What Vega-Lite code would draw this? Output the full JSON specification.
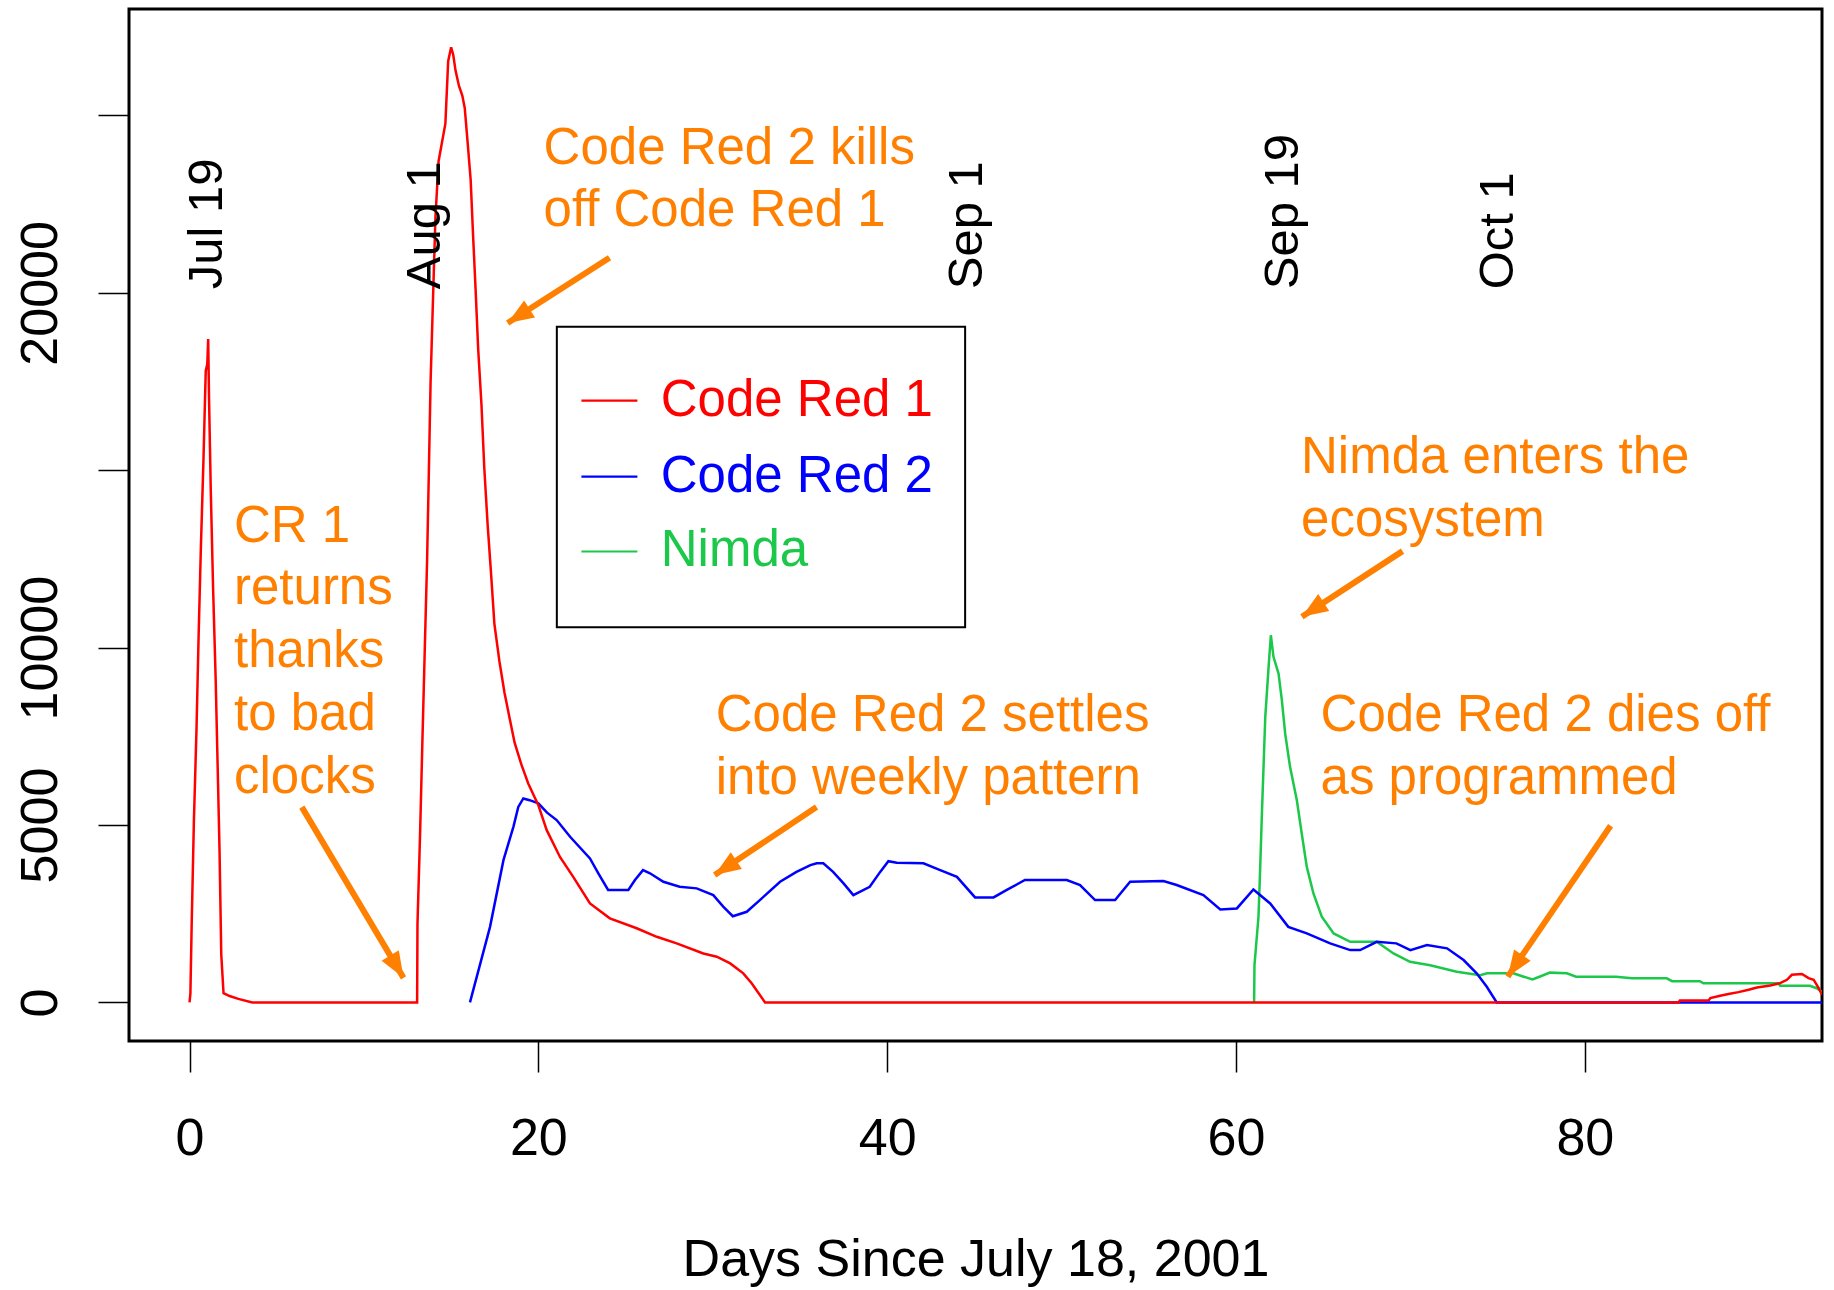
{
  "$schema": "https://vega.github.io/schema/vega-lite/v6.json",
  "width": 1693,
  "height": 1032,
  "autosize": {"type": "none"},
  "padding": {"left": 129, "top": 9, "right": 12, "bottom": 249},
  "background": "white",
  "config": {
    "view": {"stroke": "black", "strokeWidth": 3},
    "font": "Liberation Sans",
    "axis": {
      "labelFont": "Liberation Sans", "titleFont": "Liberation Sans",
      "labelColor": "black", "titleColor": "black", "tickColor": "black",
      "domain": false, "grid": false, "labelFontSize": 52, "titleFontSize": 52,
      "titleFontWeight": "normal", "tickSize": 31, "tickWidth": 1.5
    }
  },
  "datasets": {
    "cr1": [
      {"day":0,"count":0},{"day":0.05,"count":250},{"day":0.12,"count":2100},{"day":0.25,"count":5100},{"day":0.4,"count":7700},{"day":0.52,"count":10300},{"day":0.65,"count":12800},{"day":0.8,"count":15300},{"day":0.93,"count":17800},{"day":1.02,"count":18000},{"day":1.07,"count":18700},{"day":1.12,"count":17000},{"day":1.22,"count":14400},{"day":1.35,"count":11700},{"day":1.5,"count":9100},{"day":1.62,"count":6500},{"day":1.72,"count":4300},{"day":1.82,"count":1350},{"day":1.95,"count":260},{"day":2.3,"count":180},{"day":2.8,"count":100},{"day":3.6,"count":0},
      {"day":13.05,"count":0},{"day":13.07,"count":2200},{"day":13.22,"count":4760},{"day":13.35,"count":7320},{"day":13.48,"count":9785},{"day":13.62,"count":12430},{"day":13.72,"count":14900},{"day":13.82,"count":17450},{"day":13.96,"count":19830},{"day":14.1,"count":22125},{"day":14.28,"count":23710},{"day":14.67,"count":24770},{"day":14.83,"count":26530},{"day":15.0,"count":26920},
      {"day":15.12,"count":26710},{"day":15.25,"count":26270},{"day":15.45,"count":25830},{"day":15.64,"count":25560},{"day":15.78,"count":25210},{"day":15.93,"count":24330},{"day":16.12,"count":23180},{"day":16.26,"count":21600},{"day":16.41,"count":20010},{"day":16.55,"count":18420},{"day":16.74,"count":16840},{"day":16.9,"count":15070},{"day":17.09,"count":13490},{"day":17.29,"count":12080},{"day":17.48,"count":10670},{"day":17.77,"count":9610},{"day":18.06,"count":8730},{"day":18.35,"count":8020},{"day":18.64,"count":7320},{"day":19.03,"count":6700},{"day":19.42,"count":6170},{"day":20.0,"count":5560},{"day":20.48,"count":4855},{"day":21.24,"count":4100},{"day":22.0,"count":3540},{"day":22.96,"count":2790},{"day":24.1,"count":2370},{"day":25.64,"count":2090},{"day":26.79,"count":1850},{"day":27.93,"count":1665},{"day":29.46,"count":1380},{"day":30.23,"count":1290},{"day":31.0,"count":1100},{"day":31.75,"count":820},{"day":32.23,"count":540},{"day":32.5,"count":350},{"day":33.0,"count":0},
      {"day":85.37,"count":0},{"day":85.45,"count":56},{"day":87.1,"count":56},{"day":87.2,"count":122},{"day":87.76,"count":188},{"day":88.24,"count":235},{"day":88.81,"count":291},{"day":89.39,"count":357},{"day":89.87,"count":423},{"day":90.63,"count":479},{"day":91.2,"count":545},{"day":91.59,"count":638},{"day":91.87,"count":780},{"day":92.45,"count":800},{"day":92.83,"count":685},{"day":93.12,"count":640},{"day":93.41,"count":404},{"day":93.6,"count":216}
    ],
    "cr2": [
      {"day":16.08,"count":0},{"day":17.23,"count":2130},{"day":18.0,"count":4010},{"day":18.57,"count":4950},{"day":18.85,"count":5510},{"day":19.14,"count":5750},{"day":19.5,"count":5700},{"day":20.0,"count":5610},{"day":20.5,"count":5350},{"day":21.05,"count":5140},{"day":21.82,"count":4670},{"day":22.96,"count":4060},{"day":23.44,"count":3640},{"day":24.0,"count":3170},{"day":25.16,"count":3170},{"day":25.54,"count":3450},{"day":26.0,"count":3730},{"day":26.4,"count":3640},{"day":27.17,"count":3400},{"day":28.1,"count":3260},{"day":29.08,"count":3215},{"day":30.03,"count":3025},{"day":30.6,"count":2700},{"day":31.15,"count":2430},{"day":31.95,"count":2555},{"day":32.7,"count":2885},{"day":33.86,"count":3400},{"day":34.8,"count":3680},{"day":35.6,"count":3870},{"day":35.96,"count":3920},{"day":36.34,"count":3920},{"day":36.9,"count":3680},{"day":37.5,"count":3355},{"day":38.06,"count":3025},{"day":39.0,"count":3260},{"day":39.6,"count":3680},{"day":40.07,"count":3980},{"day":40.55,"count":3935},{"day":42.08,"count":3920},{"day":43.04,"count":3730},{"day":44.0,"count":3540},{"day":45.04,"count":2960},{"day":46.1,"count":2960},{"day":46.86,"count":3170},{"day":47.9,"count":3450},{"day":50.3,"count":3450},{"day":51.06,"count":3310},{"day":51.92,"count":2885},{"day":53.07,"count":2885},{"day":53.93,"count":3400},{"day":55.84,"count":3420},{"day":56.6,"count":3310},{"day":58.13,"count":3025},{"day":59.1,"count":2620},{"day":60.05,"count":2650},{"day":61.0,"count":3185},{"day":61.96,"count":2790},{"day":63.0,"count":2130},{"day":64.06,"count":1945},{"day":65.4,"count":1665},{"day":66.55,"count":1475},{"day":67.12,"count":1475},{"day":68.07,"count":1710},{"day":69.2,"count":1665},{"day":70.0,"count":1475},{"day":70.95,"count":1615},{"day":72.1,"count":1525},{"day":73.05,"count":1195},{"day":73.8,"count":820},{"day":74.38,"count":440},{"day":74.95,"count":0},{"day":93.6,"count":0}
    ],
    "nimda": [
      {"day":61.04,"count":0},{"day":61.06,"count":1050},{"day":61.29,"count":2415},{"day":61.39,"count":3820},{"day":61.48,"count":5230},{"day":61.58,"count":6640},{"day":61.68,"count":8050},{"day":61.87,"count":9460},{"day":62.0,"count":10350},{"day":62.15,"count":9740},{"day":62.44,"count":9270},{"day":62.63,"count":8520},{"day":62.82,"count":7580},{"day":63.1,"count":6640},{"day":63.49,"count":5700},{"day":63.77,"count":4760},{"day":64.06,"count":3820},{"day":64.44,"count":3070},{"day":64.92,"count":2415},{"day":65.6,"count":1945},{"day":66.55,"count":1710},{"day":68.07,"count":1710},{"day":69.03,"count":1380},{"day":69.98,"count":1145},{"day":71.13,"count":1050},{"day":72.66,"count":865},{"day":74.0,"count":770},{"day":74.4,"count":820},{"day":75.9,"count":820},{"day":76.5,"count":725},{"day":77.0,"count":650},{"day":77.4,"count":725},{"day":78.0,"count":840},{"day":78.97,"count":820},{"day":79.5,"count":725},{"day":81.8,"count":725},{"day":82.7,"count":680},{"day":84.7,"count":680},{"day":85.0,"count":600},{"day":86.6,"count":600},{"day":86.8,"count":540},{"day":91.1,"count":540},{"day":91.2,"count":470},{"day":92.9,"count":470},{"day":93.3,"count":400},{"day":93.6,"count":300}
    ],
    "legendBox": [{"day": 21.06, "day2": 44.47, "count": 10577, "count2": 19045}],
    "legendKeys": [
      {"series": "Code Red 1", "day": 22.47, "day2": 25.68, "count": 16960},
      {"series": "Code Red 2", "day": 22.47, "day2": 25.68, "count": 14820},
      {"series": "Nimda", "day": 22.47, "day2": 25.68, "count": 12710}
    ],
    "legendLabels": [
      {"series": "Code Red 1", "day": 27.02, "count": 16960},
      {"series": "Code Red 2", "day": 27.02, "count": 14820},
      {"series": "Nimda", "day": 27.02, "count": 12710}
    ],
    "notes": [
      {"note": "Code Red 2 kills\noff Code Red 1", "day": 20.3, "count": 23645},
      {"note": "CR 1\nreturns\nthanks\nto bad\nclocks", "day": 2.55, "count": 12983},
      {"note": "Code Red 2 settles\ninto weekly pattern", "day": 30.17, "count": 7645},
      {"note": "Nimda enters the\necosystem", "day": 63.73, "count": 14927},
      {"note": "Code Red 2 dies off\nas programmed", "day": 64.85, "count": 7645}
    ],
    "arrows": [
      {"day": 24.08, "count": 20990, "day2": 18.24, "count2": 19150},
      {"day": 6.44, "count": 5505, "day2": 12.27, "count2": 693},
      {"day": 35.95, "count": 5505, "day2": 30.11, "count2": 3590},
      {"day": 69.55, "count": 12720, "day2": 63.78, "count2": 10870},
      {"day": 81.48, "count": 4980, "day2": 75.58, "count2": 727}
    ],
    "dates": [
      {"label": "Jul 19", "day": 1.0, "count": 20100},
      {"label": "Aug 1", "day": 13.5, "count": 20100},
      {"label": "Sep 1", "day": 44.6, "count": 20100},
      {"label": "Sep 19", "day": 62.7, "count": 20100},
      {"label": "Oct 1", "day": 75.0, "count": 20100}
    ]
  },
  "encoding": {
    "x": {"field": "day", "type": "quantitative", "scale": {"domain": [-3.47, 93.6], "nice": false, "zero": false},
      "axis": {"values": [0, 20, 40, 60, 80], "title": "Days Since July 18, 2001", "labelPadding": 41, "titlePadding": 70, "labelFlush": false, "labelOverlap": false, "labelBaseline": "top"}},
    "y": {"field": "count", "type": "quantitative", "scale": {"domain": [-1087, 28000], "nice": false, "zero": false},
      "axis": {"values": [0, 5000, 10000, 15000, 20000, 25000], "format": "d", "labelExpr": "datum.value == 15000 || datum.value == 25000 ? '' : datum.label", "labelAngle": 270, "labelAlign": "center", "labelBaseline": "alphabetic", "labelPadding": 42, "title": null, "labelOverlap": false, "labelFlush": false}}
  },
  "layer": [
    {
      "data": {"name": "legendBox"},
      "mark": {"type": "rect", "fill": "white", "stroke": "black", "strokeWidth": 2},
      "encoding": {"x2": {"field": "day2"}, "y2": {"field": "count2"}}
    },
    {
      "data": {"name": "nimda"},
      "transform": [{"calculate": "'Nimda'", "as": "series"}],
      "mark": {"type": "line", "strokeWidth": 2.5, "clip": true},
      "encoding": {"color": {"field": "series", "type": "nominal", "scale": {"domain": ["Code Red 1", "Code Red 2", "Nimda"], "range": ["#FF0000", "#0000FF", "#1CC84A"]}, "legend": null}, "order": {"field": "day"}}
    },
    {
      "data": {"name": "cr2"},
      "transform": [{"calculate": "'Code Red 2'", "as": "series"}],
      "mark": {"type": "line", "strokeWidth": 2.5, "clip": true},
      "encoding": {"color": {"field": "series", "type": "nominal", "legend": null}, "order": {"field": "day"}}
    },
    {
      "data": {"name": "cr1"},
      "transform": [{"calculate": "'Code Red 1'", "as": "series"}],
      "mark": {"type": "line", "strokeWidth": 2.5, "clip": true},
      "encoding": {"color": {"field": "series", "type": "nominal", "legend": null}, "order": {"field": "day"}}
    },
    {
      "data": {"name": "legendKeys"},
      "mark": {"type": "rule", "strokeWidth": 2.2},
      "encoding": {"x2": {"field": "day2"}, "color": {"field": "series", "type": "nominal", "legend": null}}
    },
    {
      "data": {"name": "legendLabels"},
      "mark": {"type": "text", "fontSize": 51, "font": "Liberation Sans", "align": "left", "baseline": "middle"},
      "encoding": {"text": {"field": "series"}, "color": {"field": "series", "type": "nominal", "legend": null}}
    },
    {
      "data": {"name": "notes"},
      "mark": {"type": "text", "fontSize": 51, "font": "Liberation Sans", "align": "left", "baseline": "alphabetic", "lineBreak": "\n", "lineHeight": 62.7, "color": "#FF8000"},
      "encoding": {"text": {"field": "note"}}
    },
    {
      "data": {"name": "arrows"},
      "mark": {"type": "rule", "strokeWidth": 6, "color": "#FF8000"},
      "encoding": {"x2": {"field": "day2"}, "y2": {"field": "count2"}}
    },
    {
      "data": {"name": "arrows"},
      "transform": [
        {"calculate": "atan2((datum.count - datum.count2) * 0.03548, (datum.day2 - datum.day) * 17.44) * 180 / PI", "as": "heading"},
        {"calculate": "datum.day2", "as": "day"},
        {"calculate": "datum.count2", "as": "count"}
      ],
      "mark": {"type": "point", "shape": "M0,0 L-2.2,-0.85 L-2.2,0.85 Z", "filled": true, "size": 560, "color": "#FF8000", "opacity": 1},
      "encoding": {
        "angle": {"field": "heading", "type": "quantitative", "scale": null}
      }
    },
    {
      "data": {"name": "dates"},
      "mark": {"type": "text", "fontSize": 49, "font": "Liberation Sans", "angle": 270, "align": "left", "baseline": "middle", "color": "black"},
      "encoding": {"text": {"field": "label"}}
    }
  ]
}
